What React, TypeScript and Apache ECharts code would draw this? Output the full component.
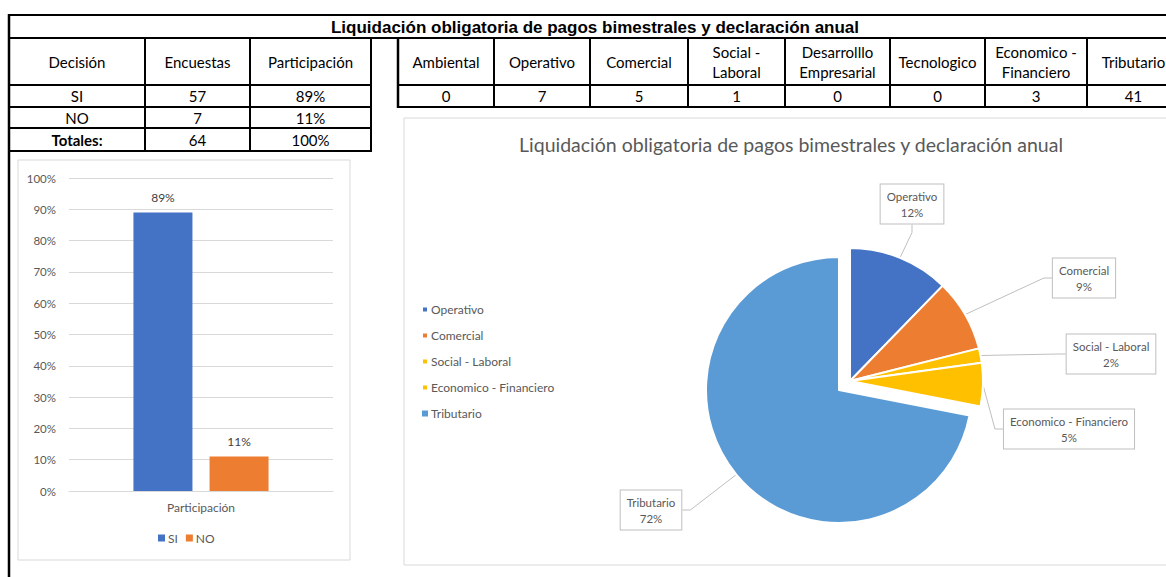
import React, { useEffect, useRef } from 'react';
import * as echarts from 'echarts';

// ---------- data ----------
const mainTitle = 'Liquidación obligatoria de pagos bimestrales y declaración anual';
const decisionHeaders = ['Decisión', 'Encuestas', 'Participación'];
const decisions = ['SI', 'NO'];
const encuestas = [57, 7];
const participacion = [89, 11];
const totalLabel = 'Totales:';
const totalEncuestas = 64;
const totalParticipacion = 100;

const areaHeaders = [
  'Ambiental',
  'Operativo',
  'Comercial',
  'Social -\nLaboral',
  'Desarrolllo\nEmpresarial',
  'Tecnologico',
  'Economico -\nFinanciero',
  'Tributario',
];
const areaCounts = [0, 7, 5, 1, 0, 0, 3, 41];

const barCategories = ['Participación'];
const pieNames = ['Operativo', 'Comercial', 'Social - Laboral', 'Economico - Financiero', 'Tributario'];
const pieValues = [7, 5, 1, 3, 41];

// ---------- layout / style ----------
const pieColors = ['#4472C4', '#ED7D31', '#FFC000', '#FFC000', '#5B9BD5'];
const barColors = ['#4472C4', '#ED7D31'];
// which slices are drawn by the "exploded" group (index 0) vs the big slice group (index 1)
const pieGroupOf = [0, 0, 0, 0, 1];
const pieGroupCenters: [number, number][] = [
  [850, 381],
  [839, 390],
];
const pieLabelPos: [number, number][] = [
  [912, 204],
  [1084, 278],
  [1111, 354],
  [1069, 429],
  [651, 510],
];
const leftCols = [9, 145, 250, 371];
const leftRows = [38, 85, 107, 128, 151];
const rightCols = [398, 494, 590, 688, 785, 890, 985, 1087, 1180];
const rightRows = [38, 85, 107];

const CAL = 'Lato, "Open Sans", sans-serif';
const GRAY = '#595959';

function line(x1: number, y1: number, x2: number, y2: number, w: number) {
  return {
    type: 'line',
    silent: true,
    shape: { x1, y1, x2, y2 },
    style: { stroke: '#000', lineWidth: w },
  };
}
function cellText(text: string, x: number, y: number, bold = false) {
  return {
    type: 'text',
    silent: true,
    x,
    y,
    style: {
      text,
      align: 'center',
      verticalAlign: 'middle',
      fontFamily: CAL,
      fontSize: 15,
      lineHeight: 20,
      fontWeight: bold ? 'bold' : 'normal',
      fill: '#000',
    },
  };
}

function buildGraphics() {
  const g: any[] = [];
  g.push({ type: 'rect', silent: true, shape: { x: 18, y: 160, width: 332, height: 400 }, style: { fill: 'none', stroke: '#d9d9d9', lineWidth: 1 } });
  g.push({ type: 'rect', silent: true, shape: { x: 404, y: 118, width: 780, height: 447 }, style: { fill: 'none', stroke: '#d9d9d9', lineWidth: 1 } });
  g.push(line(8, 15, 1166, 15, 2));
  g.push(line(9, 14, 9, 577, 2.5));
  g.push(line(8, 38, 1166, 38, 2));
  g.push({
    type: 'text',
    silent: true,
    x: 595,
    y: 27,
    style: {
      text: mainTitle,
      align: 'center',
      verticalAlign: 'middle',
      fontFamily: '"Liberation Sans", Arial, sans-serif',
      fontWeight: 'bold',
      fontSize: 17,
      fill: '#000',
    },
  });
  leftCols.forEach((x, i) => {
    if (i > 0) g.push(line(x, leftRows[0], x, leftRows[leftRows.length - 1], 2));
  });
  leftRows.forEach((y, i) => {
    if (i > 0) g.push(line(leftCols[0], y, leftCols[leftCols.length - 1] + 1, y, 2));
  });
  const lc = (i: number) => (leftCols[i] + leftCols[i + 1]) / 2;
  const lr = (i: number) => (leftRows[i] + leftRows[i + 1]) / 2;
  decisionHeaders.forEach((h, i) => g.push(cellText(h, lc(i), lr(0))));
  decisions.forEach((d, r) => {
    g.push(cellText(d, lc(0), lr(r + 1)));
    g.push(cellText(String(encuestas[r]), lc(1), lr(r + 1)));
    g.push(cellText(participacion[r] + '%', lc(2), lr(r + 1)));
  });
  g.push(cellText(totalLabel, lc(0), lr(3), true));
  g.push(cellText(String(totalEncuestas), lc(1), lr(3)));
  g.push(cellText(totalParticipacion + '%', lc(2), lr(3)));
  rightCols.forEach((x, i) => {
    g.push(line(x, rightRows[0], x, rightRows[rightRows.length - 1] + 1, i === 0 ? 2.5 : 2));
  });
  rightRows.forEach((y, i) => {
    if (i > 0) g.push(line(rightCols[0], y, 1166, y, 2));
  });
  const rc = (i: number) => (rightCols[i] + rightCols[i + 1]) / 2;
  const rr = (i: number) => (rightRows[i] + rightRows[i + 1]) / 2;
  areaHeaders.forEach((h, i) => g.push(cellText(h, rc(i), rr(0))));
  areaCounts.forEach((v, i) => g.push(cellText(String(v), rc(i), rr(1))));
  return g;
}

function pieSeries(group: number) {
  return {
    type: 'pie',
    name: 'Áreas ' + (group + 1),
    center: pieGroupCenters[group],
    radius: 133,
    startAngle: 90,
    clockwise: true,
    percentPrecision: 0,
    avoidLabelOverlap: false,
    emphasis: { disabled: true },
    label: {
      show: true,
      position: 'outside',
      formatter: '{b}\n{d}%',
      color: GRAY,
      fontFamily: CAL,
      fontSize: 11.5,
      lineHeight: 16,
      backgroundColor: '#fff',
      borderColor: '#bfbfbf',
      borderWidth: 1,
      padding: [4, 6, 3, 6],
      align: 'center',
    },
    labelLine: { show: true, length: 12, length2: 8, lineStyle: { color: '#bfbfbf', width: 1 } },
    labelLayout: (params: any) => ({
      x: pieLabelPos[params.dataIndex][0],
      y: pieLabelPos[params.dataIndex][1],
      align: 'center',
      verticalAlign: 'middle',
    }),
    data: pieNames.map((n, i) => {
      const visible = pieGroupOf[i] === group;
      return {
        name: n,
        value: pieValues[i],
        itemStyle: visible
          ? { color: pieColors[i], borderColor: '#fff', borderWidth: 2 }
          : { color: 'rgba(0,0,0,0)', borderWidth: 0 },
        label: { show: visible },
        labelLine: { show: visible },
      };
    }),
  };
}

export default function App() {
  const ref = useRef<HTMLDivElement>(null);
  useEffect(() => {
    if (!ref.current) return;
    const chart = echarts.init(ref.current, undefined, { renderer: 'svg' });
    const option: any = {
      animation: false,
      backgroundColor: '#fff',
      title: {
        text: mainTitle,
        left: 786,
        top: 129,
        textAlign: 'center',
        textStyle: { fontFamily: CAL, fontSize: 19.5, fontWeight: 'normal', color: GRAY },
      },
      legend: [
        {
          data: decisions,
          left: 158,
          top: 532,
          padding: 0,
          itemWidth: 7,
          itemHeight: 7,
          itemGap: 8,
          icon: 'rect',
          textStyle: { fontFamily: CAL, fontSize: 12, color: GRAY, padding: [0, 0, 0, -2] },
        },
        {
          data: pieNames.map((n, i) => ({ name: n, itemStyle: { color: pieColors[i] } })),
          orient: 'vertical',
          left: 421,
          top: 303,
          padding: 0,
          itemWidth: 6,
          itemHeight: 6,
          itemGap: 13,
          icon: 'rect',
          textStyle: { fontFamily: CAL, fontSize: 12, color: GRAY, lineHeight: 13, padding: [0, 0, 0, -2] },
        },
      ],
      grid: { left: 69, width: 264, top: 178, height: 313, containLabel: false },
      xAxis: {
        type: 'category',
        data: barCategories,
        axisLine: { lineStyle: { color: '#d9d9d9' } },
        axisTick: { show: false },
        axisLabel: { color: GRAY, fontFamily: CAL, fontSize: 12, margin: 10 },
      },
      yAxis: {
        type: 'value',
        min: 0,
        max: 100,
        interval: 10,
        axisLine: { show: false },
        axisTick: { show: false },
        axisLabel: { formatter: '{value}%', color: GRAY, fontFamily: CAL, fontSize: 11.5, margin: 13 },
        splitLine: { lineStyle: { color: '#d9d9d9' } },
      },
      series: [
        ...decisions.map((d, i) => ({
          type: 'bar',
          name: d,
          data: [participacion[i]],
          barWidth: 59,
          barGap: '29%',
          itemStyle: { color: barColors[i] },
          label: {
            show: true,
            position: 'top',
            distance: 9,
            formatter: '{c}%',
            color: '#404040',
            fontFamily: CAL,
            fontSize: 12,
          },
        })),
        pieSeries(0),
        pieSeries(1),
      ],
      graphic: buildGraphics(),
    };
    chart.setOption(option);
    return () => chart.dispose();
  }, []);
  return (
    <div
      ref={ref}
      style={{ position: 'absolute', left: 0, top: 0, width: 1166, height: 577 }}
    />
  );
}
